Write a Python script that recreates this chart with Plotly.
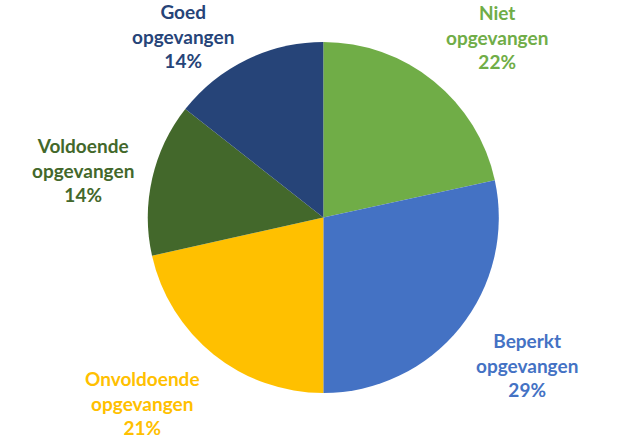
import plotly.graph_objects as go

# Data
categories = ["Niet<br>opgevangen", "Beperkt<br>opgevangen", "Onvoldoende<br>opgevangen",
              "Voldoende<br>opgevangen", "Goed<br>opgevangen"]
slice_values = [21.6, 28.4, 21.5, 14.1, 14.4]          # slice sizes as drawn
label_percentages = ["22%", "29%", "21%", "14%", "14%"]  # percentages as printed

colors = ["#70AD47", "#4472C4", "#FFC000", "#43682B", "#264478"]
# label centres (pixels in the 628x438 canvas)
label_px = [(497, 37), (527, 365), (142, 403), (83, 170), (183, 36)]

W, H = 628, 438
cx, cy, r = 323.3, 217.5, 175.5

fig = go.Figure(go.Pie(
    values=slice_values,
    labels=categories,
    sort=False,
    direction="clockwise",
    rotation=0,
    marker=dict(colors=colors, line=dict(width=0)),
    textinfo="none",
    hoverinfo="label+percent",
    showlegend=False,
    domain=dict(x=[(cx - r) / W, (cx + r) / W],
                y=[(H - cy - r) / H, (H - cy + r) / H]),
))

annotations = []
for cat, pct, col, (px, py) in zip(categories, label_percentages, colors, label_px):
    annotations.append(dict(
        text=f"<b>{cat}<br>{pct}</b>",
        x=px / W, y=1 - py / H, xref="paper", yref="paper",
        xanchor="center", yanchor="middle", showarrow=False,
        font=dict(family="Lato, Liberation Sans, sans-serif", size=19, color=col),
        align="center",
    ))

fig.update_layout(
    width=W, height=H,
    margin=dict(l=0, r=0, t=0, b=0),
    paper_bgcolor="white", plot_bgcolor="white",
    annotations=annotations,
)

fig.write_html("out.html")
